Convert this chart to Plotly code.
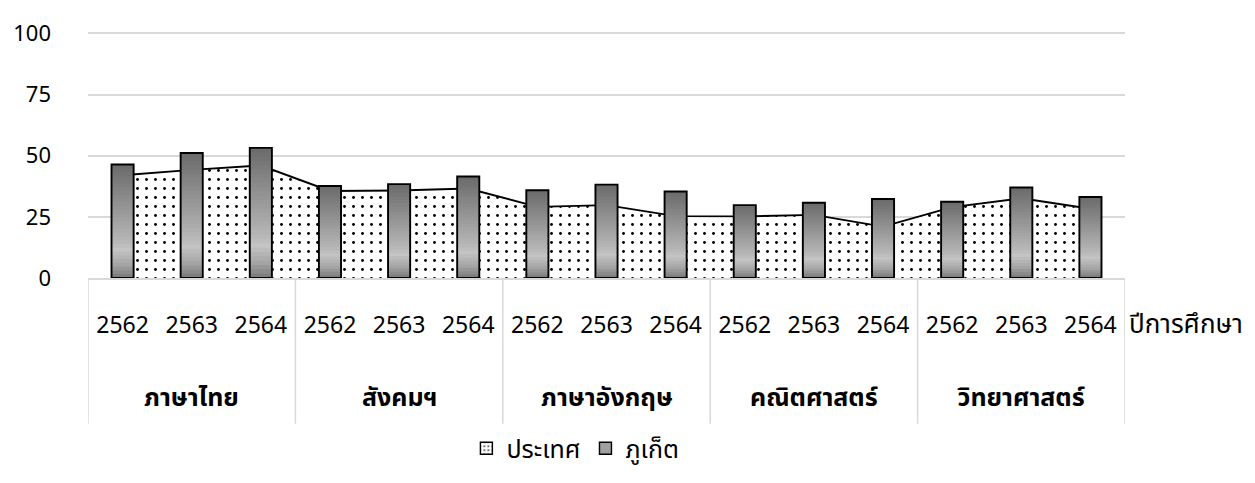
import plotly.graph_objects as go

subjects = ["ภาษาไทย", "สังคมฯ", "ภาษาอังกฤษ", "คณิตศาสตร์", "วิทยาศาสตร์"]
years = ["2562", "2563", "2564"]
country = [42.0, 44.2, 46.0, 35.6, 35.8, 36.6, 29.1, 29.8, 25.3, 25.2, 25.8, 21.0, 29.0, 32.6, 28.3]
phuket = [46.4, 51.1, 53.2, 37.6, 38.4, 41.5, 35.9, 38.2, 35.4, 29.8, 30.8, 32.3, 31.2, 37.0, 33.1]
y_ticks = [0, 25, 50, 75, 100]
x_title = "ปีการศึกษา"
name_country = "ประเทศ"
name_phuket = "ภูเก็ต"

FONT = "Tahoma, 'Leelawadee UI', 'Noto Sans Thai', 'Noto Sans', sans-serif"
n_years = len(years)
idx = list(range(len(subjects) * n_years))
tick_text = [years[i % n_years] for i in idx]
DOTS = dict(shape=".", fgcolor="black", bgcolor="white", size=9, solidity=0.08, fgopacity=1)
DOTS_LEG = dict(shape=".", fgcolor="black", bgcolor="white", size=5, solidity=0.15, fgopacity=1)

fig = go.Figure()

# area (country) on base axes
fig.add_trace(go.Scatter(
    x=idx, y=country, name=name_country, mode="lines",
    line=dict(color="black", width=1.9),
    fill="tozeroy", fillcolor="white", fillpattern=DOTS,
    showlegend=False, xaxis="x", yaxis="y",
))
# legend swatch for country
fig.add_trace(go.Bar(
    x=[None], y=[None], name=name_country,
    marker=dict(color="white", pattern=DOTS_LEG, line=dict(color="black", width=1.4)),
    xaxis="x", yaxis="y2",
))

# gradient bars (phuket) on overlay axis, drawn above area
stops = [(0.0, (120, 120, 120)), (0.12, (165, 165, 165)), (0.25, (196, 196, 196)),
         (0.33, (182, 182, 182)), (1.0, (106, 106, 106))]

def col(f):
    for (a, ca), (b, cb) in zip(stops[:-1], stops[1:]):
        if a <= f <= b:
            t = (f - a) / (b - a) if b > a else 0
            c = [round(ca[k] + (cb[k] - ca[k]) * t) for k in range(3)]
            return f"rgb({c[0]},{c[1]},{c[2]})"
    return "rgb(106,106,106)"

N = 30
BW = 0.32
for i in range(N):
    f = (i + 0.5) / N
    fig.add_trace(go.Bar(
        x=idx, y=[v * (N - i) / N for v in phuket], base=[v * i / N for v in phuket],
        width=BW, marker=dict(color=col(f), line=dict(width=0)),
        showlegend=False, hoverinfo="skip", xaxis="x", yaxis="y2",
    ))
fig.add_trace(go.Bar(
    x=idx, y=phuket, width=BW, name=name_phuket,
    marker=dict(color="rgba(0,0,0,0)", line=dict(color="black", width=1.9)),
    showlegend=False, xaxis="x", yaxis="y2",
))
# legend swatch for phuket
fig.add_trace(go.Bar(
    x=[None], y=[None], name=name_phuket,
    marker=dict(color="rgb(160,160,160)", line=dict(color="black", width=1.4)),
    xaxis="x", yaxis="y2",
))

shapes = []
for g in range(len(subjects) + 1):
    xb = g * n_years - 0.5
    shapes.append(dict(type="line", xref="x", yref="paper", x0=xb, x1=xb,
                       y0=0, y1=-0.59, line=dict(color="#d9d9d9", width=1.5)))

annotations = []
for g, s in enumerate(subjects):
    annotations.append(dict(x=g * n_years + (n_years - 1) / 2, xref="x", y=-0.485, yref="paper",
                            yanchor="middle", text=f"<b>{s}</b>", showarrow=False,
                            font=dict(size=25, color="black", family=FONT)))
annotations.append(dict(x=1.002, xref="paper", y=-0.19, yref="paper", xanchor="left",
                        yanchor="middle", text=x_title, showarrow=False,
                        font=dict(size=26, color="black", family=FONT)))

fig.update_layout(
    width=1247, height=475,
    margin=dict(l=80, r=130, t=23, b=202),
    paper_bgcolor="white", plot_bgcolor="white",
    font=dict(family=FONT, color="black"),
    barmode="overlay",
    showlegend=True,
    legend=dict(orientation="h", x=0.47, xanchor="center", y=-0.69, yanchor="middle",
                font=dict(size=25, family=FONT), traceorder="normal"),
    xaxis=dict(range=[-0.5, len(idx) - 0.5], tickmode="array", tickvals=idx, ticktext=tick_text,
               showgrid=False, zeroline=False, showline=True, linecolor="#d9d9d9", linewidth=1.5,
               ticks="", tickfont=dict(size=23, family=FONT), ticklabelstandoff=26,
               automargin=False),
    yaxis=dict(range=[0, 101], tickvals=y_ticks, showgrid=True, gridcolor="#d9d9d9", gridwidth=1.5,
               zeroline=False, showline=False, ticks="", tickfont=dict(size=22, family=FONT),
               ticklabelstandoff=36, automargin=False),
    yaxis2=dict(range=[0, 101], overlaying="y", visible=False),
    shapes=shapes, annotations=annotations,
)

fig.write_html("out.html")
